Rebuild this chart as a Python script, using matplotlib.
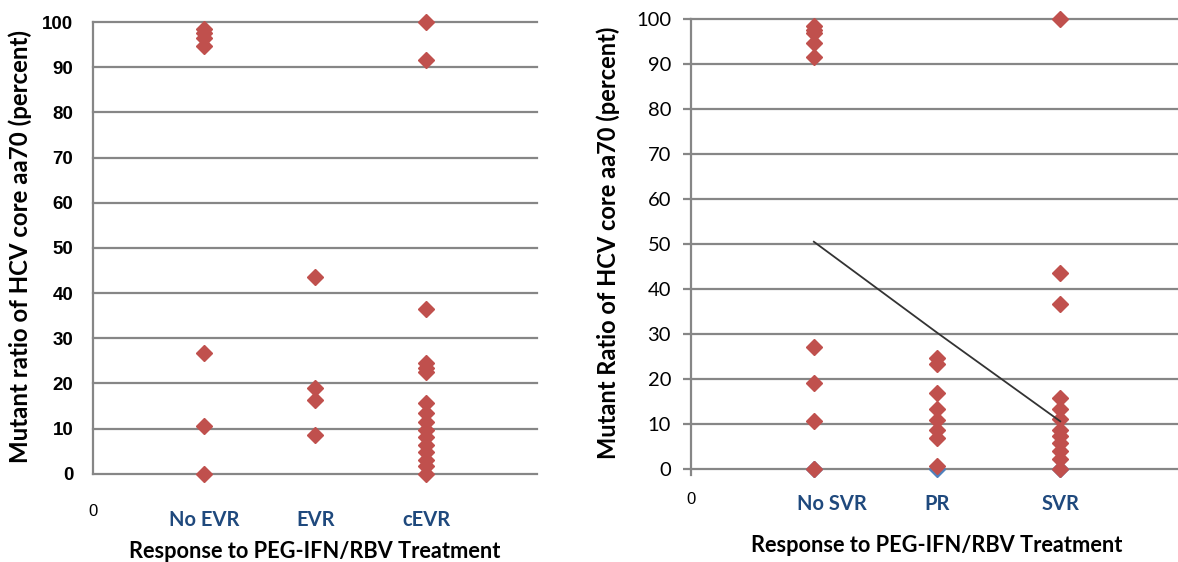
import matplotlib
matplotlib.use("Agg")
import matplotlib.pyplot as plt
from matplotlib.transforms import ScaledTranslation

# ---- data ----
left_cats = ["No EVR", "EVR", "cEVR"]
no_evr = [98.5, 97.6, 96.5, 94.8, 26.8, 10.5, 0.0]
evr = [43.5, 19.0, 16.4, 8.5]
cevr = [100.0, 91.5, 36.4, 24.5, 23.5, 22.6, 15.6, 13.4, 11.5, 9.7, 8.2,
        6.4, 4.9, 3.0, 1.6, 0.0]

right_cats = ["No SVR", "PR", "SVR"]
no_svr = [98.4, 97.5, 96.8, 94.7, 91.5, 27.0, 19.0, 10.7, 0.0]
pr = [24.7, 23.4, 16.8, 13.4, 10.8, 8.6, 6.9, 0.6]
svr = [100.0, 43.6, 36.6, 15.8, 13.4, 11.0, 8.6, 7.3, 5.8, 4.0, 2.3, 0.0]
blue_zero = [0.0, 0.0, 0.0]
trend = [50.5, 30.3, 10.6]

yticks = [0, 10, 20, 30, 40, 50, 60, 70, 80, 90, 100]
xtitle = "Response to PEG-IFN/RBV Treatment"

RED = "#C0504D"
BLUE = "#4F81BD"
GRID = "#868686"
NAVY = "#1F497D"

fig = plt.figure(figsize=(11.78, 5.62), dpi=100)
axL = fig.add_axes([0.0792, 0.1571, 0.3769, 0.8037])
axR = fig.add_axes([0.5863, 0.1655, 0.4183, 0.8007])


def scatter_col(ax, x, vals, color):
    ax.plot([x] * len(vals), vals, linestyle="none", marker="D", ms=8.2,
            color=color, mec=color, clip_on=False, zorder=3)


def base(ax):
    ax.set_xlim(0, 4)
    ax.set_ylim(0, 100)
    ax.set_yticks(yticks)
    ax.yaxis.grid(True, color=GRID, lw=1.6, clip_on=False)
    ax.set_axisbelow(True)
    for s in ["top", "right", "bottom"]:
        ax.spines[s].set_visible(False)
    ax.spines["left"].set_color(GRID)
    ax.spines["left"].set_linewidth(1.6)


# ---- left panel ----
base(axL)
for i, vals in enumerate([no_evr, evr, cevr]):
    scatter_col(axL, i + 1, vals, RED)
axL.tick_params(axis="y", length=0, pad=14.5)
for t in axL.get_yticklabels():
    t.set_fontfamily("Liberation Sans")
    t.set_fontweight("bold")
    t.set_fontsize(13.5)
axL.set_xticks([0, 1, 2, 3], ["0"] + left_cats)
axL.tick_params(axis="x", length=0, pad=33)
for k, t in enumerate(axL.get_xticklabels()):
    t.set_va("center")
    if k == 0:
        t.set_fontfamily("Liberation Sans")
        t.set_fontsize(12)
        t.set_color("black")
        t.set_transform(t.get_transform() + ScaledTranslation(0, 8 / 100, fig.dpi_scale_trans))
    else:
        t.set_fontfamily("Lato")
        t.set_fontweight("bold")
        t.set_fontsize(14.5)
        t.set_color(NAVY)
axL.set_ylabel("Mutant ratio of HCV core aa70 (percent)", family="Lato",
               weight="bold", fontsize=17.3, va="center")
axL.yaxis.set_label_coords(-0.164, 0.504)
axL.set_xlabel(xtitle, family="Lato", weight="bold", fontsize=15.7, va="center")
axL.xaxis.set_label_coords(0.4993, -0.1727)

# ---- right panel ----
base(axR)
axR.spines["left"].set_bounds(-1.4, 100)
for i in range(3):
    scatter_col(axR, i + 1, [blue_zero[i]], BLUE)
for i, vals in enumerate([no_svr, pr, svr]):
    scatter_col(axR, i + 1, vals, RED)
axR.plot([1, 2, 3], trend, color="#333333", lw=1.3, zorder=4)
axR.tick_params(axis="y", length=5.5, width=1.6, color=GRID, pad=8.6)
for t in axR.get_yticklabels():
    t.set_fontfamily("Lato")
    t.set_fontsize(14.5)
axR.set_xticks([0, 1, 2, 3], ["0"] + right_cats)
axR.tick_params(axis="x", length=0, pad=25)
for k, t in enumerate(axR.get_xticklabels()):
    t.set_va("center")
    if k == 0:
        t.set_fontfamily("Liberation Sans")
        t.set_fontsize(12)
        t.set_color("black")
        t.set_transform(t.get_transform() + ScaledTranslation(0, 4 / 100, fig.dpi_scale_trans))
    else:
        t.set_fontfamily("Lato")
        t.set_fontweight("bold")
        t.set_fontsize(14.5)
        t.set_color(NAVY)
        if k == 1:
            t.set_transform(t.get_transform() + ScaledTranslation(18 / 100, 0, fig.dpi_scale_trans))
axR.set_ylabel("Mutant Ratio of HCV core aa70 (percent)", family="Lato",
               weight="bold", fontsize=17, va="center")
axR.yaxis.set_label_coords((607.8 - 690.7) / 492.8, (469 - 243) / 450)
axR.set_xlabel(xtitle, family="Lato", weight="bold", fontsize=15.7, va="center")
axR.xaxis.set_label_coords(0.4998, -0.169)

fig.savefig("out.png", dpi=100)
